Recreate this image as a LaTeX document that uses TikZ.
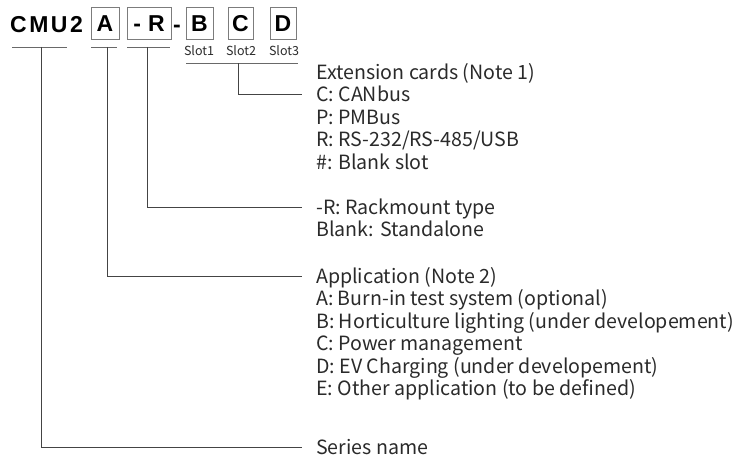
\documentclass[tikz,border=0pt]{standalone}
\usepackage{fontspec}
\setmainfont{Noto Sans CJK JP}
\newfontfamily\headfont{Liberation Sans}
\definecolor{txt}{HTML}{2a2a2a}
\definecolor{ln}{HTML}{444444}
\tikzset{
  lbl/.style={anchor=base west,inner sep=0pt,text=txt,font=\fontsize{19.6}{22}\selectfont},
  conn/.style={draw=ln,line width=0.9pt},
  uline/.style={draw=ln!80,line width=0.9pt},
  headtxt/.style={inner sep=0pt,text=black,font=\headfont\bfseries\fontsize{23}{26}\selectfont},
  codebox/.style={headtxt,draw=ln!70,line width=0.8pt,minimum height=32pt,text height=16.5pt,text depth=0pt,anchor=center},
  slotlbl/.style={inner sep=0pt,text=txt,font=\fontsize{12.5}{14}\selectfont},
}
\begin{document}
\begin{tikzpicture}[x=1pt,y=-1pt]
\useasboundingbox (0,0) rectangle (738,460);
% heading
\node[headtxt,anchor=base west] (cmu) at (10,33) {C\kern2.5ptM\kern2.5ptU\kern2.5pt2};
\node[codebox,minimum width=28pt] (bA) at (105,23) {A};
\node[codebox,minimum width=44pt] (bR) at (149,23) {-\hspace{7pt}R};
\node[headtxt,anchor=base] (dash) at (177,33) {-};
\node[codebox,minimum width=27pt] (bB) at (199.5,23) {B};
\node[codebox,minimum width=25pt] (bC) at (240.5,23) {C};
\node[codebox,minimum width=26pt] (bD) at (283,23) {D};
\node[slotlbl] (s1) at (199,51) {Slot1};
\node[slotlbl] (s2) at (241,51) {Slot2};
\node[slotlbl] (s3) at (284,51) {Slot3};
% underlines
\coordinate (u1a) at (12,47); \coordinate (u1b) at (67,47);
\coordinate (u2a) at (91,47); \coordinate (u2b) at (117,47);
\coordinate (u3a) at (127,47); \coordinate (u3b) at (170,47);
\coordinate (u4a) at (186,63); \coordinate (u4b) at (298,63);
\draw[uline] (u1a) -- (u1b);
\draw[uline] (u2a) -- (u2b);
\draw[uline] (u3a) -- (u3b);
\draw[uline] (u4a) -- (u4b);
\coordinate (v1) at (41,47);
\coordinate (v2) at (107,47);
\coordinate (v3) at (147,47);
\coordinate (v4) at (238,63);
% labels
\node[lbl] (ext) at (316,79) {Extension cards (Note 1)};
\node[lbl] (eC) at (316,101.5) {C: CANbus};
\node[lbl] (eP) at (316,124) {P: PMBus};
\node[lbl] (eR) at (316,146.5) {R: RS-232/RS-485/USB};
\node[lbl] (eH) at (316,169) {\#: Blank slot};
\node[lbl] (rack) at (316,214) {-R: Rackmount type};
\node[lbl] (stand) at (316,236.5) {Blank: Standalone};
\node[lbl] (app) at (316,283) {Application (Note 2)};
\node[lbl] (aA) at (316,305.5) {A: Burn-in test system (optional)};
\node[lbl] (aB) at (316,328) {B: Horticulture lighting (under developement)};
\node[lbl] (aC) at (316,350.5) {C: Power management};
\node[lbl] (aD) at (316,373) {D: EV Charging (under developement)};
\node[lbl] (aE) at (316,395.5) {E: Other application (to be defined)};
\node[lbl] (ser) at (316,454) {Series name};
% connectors
\coordinate (eCe) at (302,94); \coordinate (racke) at (302,207);
\coordinate (appe) at (302,276); \coordinate (sere) at (302,447);
\draw[conn] (v4) |- (eCe);
\draw[conn] (v3) |- (racke);
\draw[conn] (v2) |- (appe);
\draw[conn] (v1) |- (sere);
\end{tikzpicture}
\end{document}
